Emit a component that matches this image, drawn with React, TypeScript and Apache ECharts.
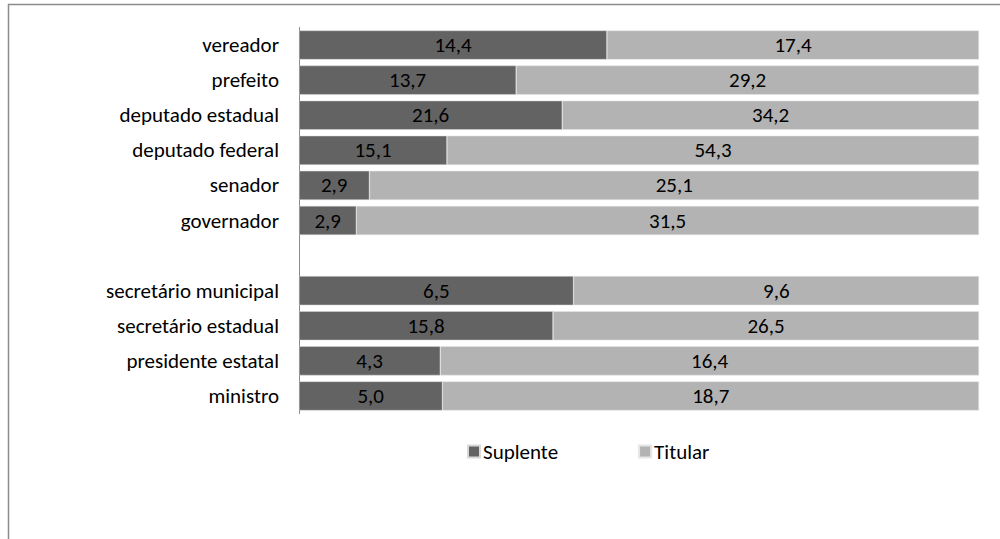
import React, { useEffect, useRef } from "react";
import * as echarts from "echarts";

const categories = [
  "vereador",
  "prefeito",
  "deputado estadual",
  "deputado federal",
  "senador",
  "governador",
  "",
  "secretário municipal",
  "secretário estadual",
  "presidente estatal",
  "ministro",
];
const suplente: (number | null)[] = [14.4, 13.7, 21.6, 15.1, 2.9, 2.9, null, 6.5, 15.8, 4.3, 5.0];
const titular: (number | null)[] = [17.4, 29.2, 34.2, 54.3, 25.1, 31.5, null, 9.6, 26.5, 16.4, 18.7];

const FONT = "'Carlito', 'Open Sans', 'Noto Sans', sans-serif";
const FS = 21;

function share(a: (number | null)[], b: (number | null)[]) {
  return a.map((v, i) => {
    const w = b[i];
    if (v == null || w == null) return { value: "-", raw: null };
    return { value: (v / (v + w)) * 100, raw: v };
  });
}

export default function App() {
  const ref = useRef<HTMLDivElement>(null);
  useEffect(() => {
    if (!ref.current) return;
    const chart = echarts.init(ref.current, undefined, { renderer: "svg" });
    const fmt = (p: any) =>
      p.data && p.data.raw != null ? p.data.raw.toFixed(1).replace(".", ",") : "";
    const label = {
      show: true,
      position: "inside",
      color: "#000",
      fontSize: FS,
      fontFamily: FONT,
      formatter: fmt,
    };
    chart.setOption({
      animation: false,
      graphic: [
        {
          type: "line",
          shape: { x1: 8, y1: 4.5, x2: 1000, y2: 4.5 },
          style: { stroke: "#8c8c8c", lineWidth: 1.5 },
        },
        {
          type: "line",
          shape: { x1: 8.5, y1: 4, x2: 8.5, y2: 539 },
          style: { stroke: "#8c8c8c", lineWidth: 1.5 },
        },
      ],
      grid: { left: 299, right: 21, top: 27.5, bottom: 125.5, containLabel: false },
      legend: {
        left: 462,
        top: 436,
        itemWidth: 12,
        itemHeight: 12,
        itemGap: 80,
        icon: "rect",
        textStyle: { fontSize: FS, fontFamily: FONT, color: "#000", padding: [0, 0, 0, -2] },
        data: ["Suplente", "Titular"],
      },
      xAxis: { type: "value", min: 0, max: 100, show: false },
      yAxis: {
        type: "category",
        inverse: true,
        data: categories,
        axisLine: { show: true, lineStyle: { color: "#8c8c8c", width: 1 } },
        axisTick: { show: false },
        axisLabel: { margin: 20, fontSize: FS, fontFamily: FONT, color: "#000" },
      },
      series: [
        {
          name: "Suplente",
          type: "bar",
          stack: "s",
          barCategoryGap: "17%",
          itemStyle: { color: "#636363", borderColor: "#d9d9d9", borderWidth: 0.5 },
          label,
          data: share(suplente, titular),
        },
        {
          name: "Titular",
          type: "bar",
          stack: "s",
          barCategoryGap: "17%",
          itemStyle: { color: "#b3b3b3", borderColor: "#e6e6e6", borderWidth: 0.5 },
          label,
          data: share(titular, suplente),
        },
      ],
    });
    return () => chart.dispose();
  }, []);
  return (
    <div
      ref={ref}
      style={{ position: "absolute", left: 0, top: 0, width: 1000, height: 539 }}
    />
  );
}
